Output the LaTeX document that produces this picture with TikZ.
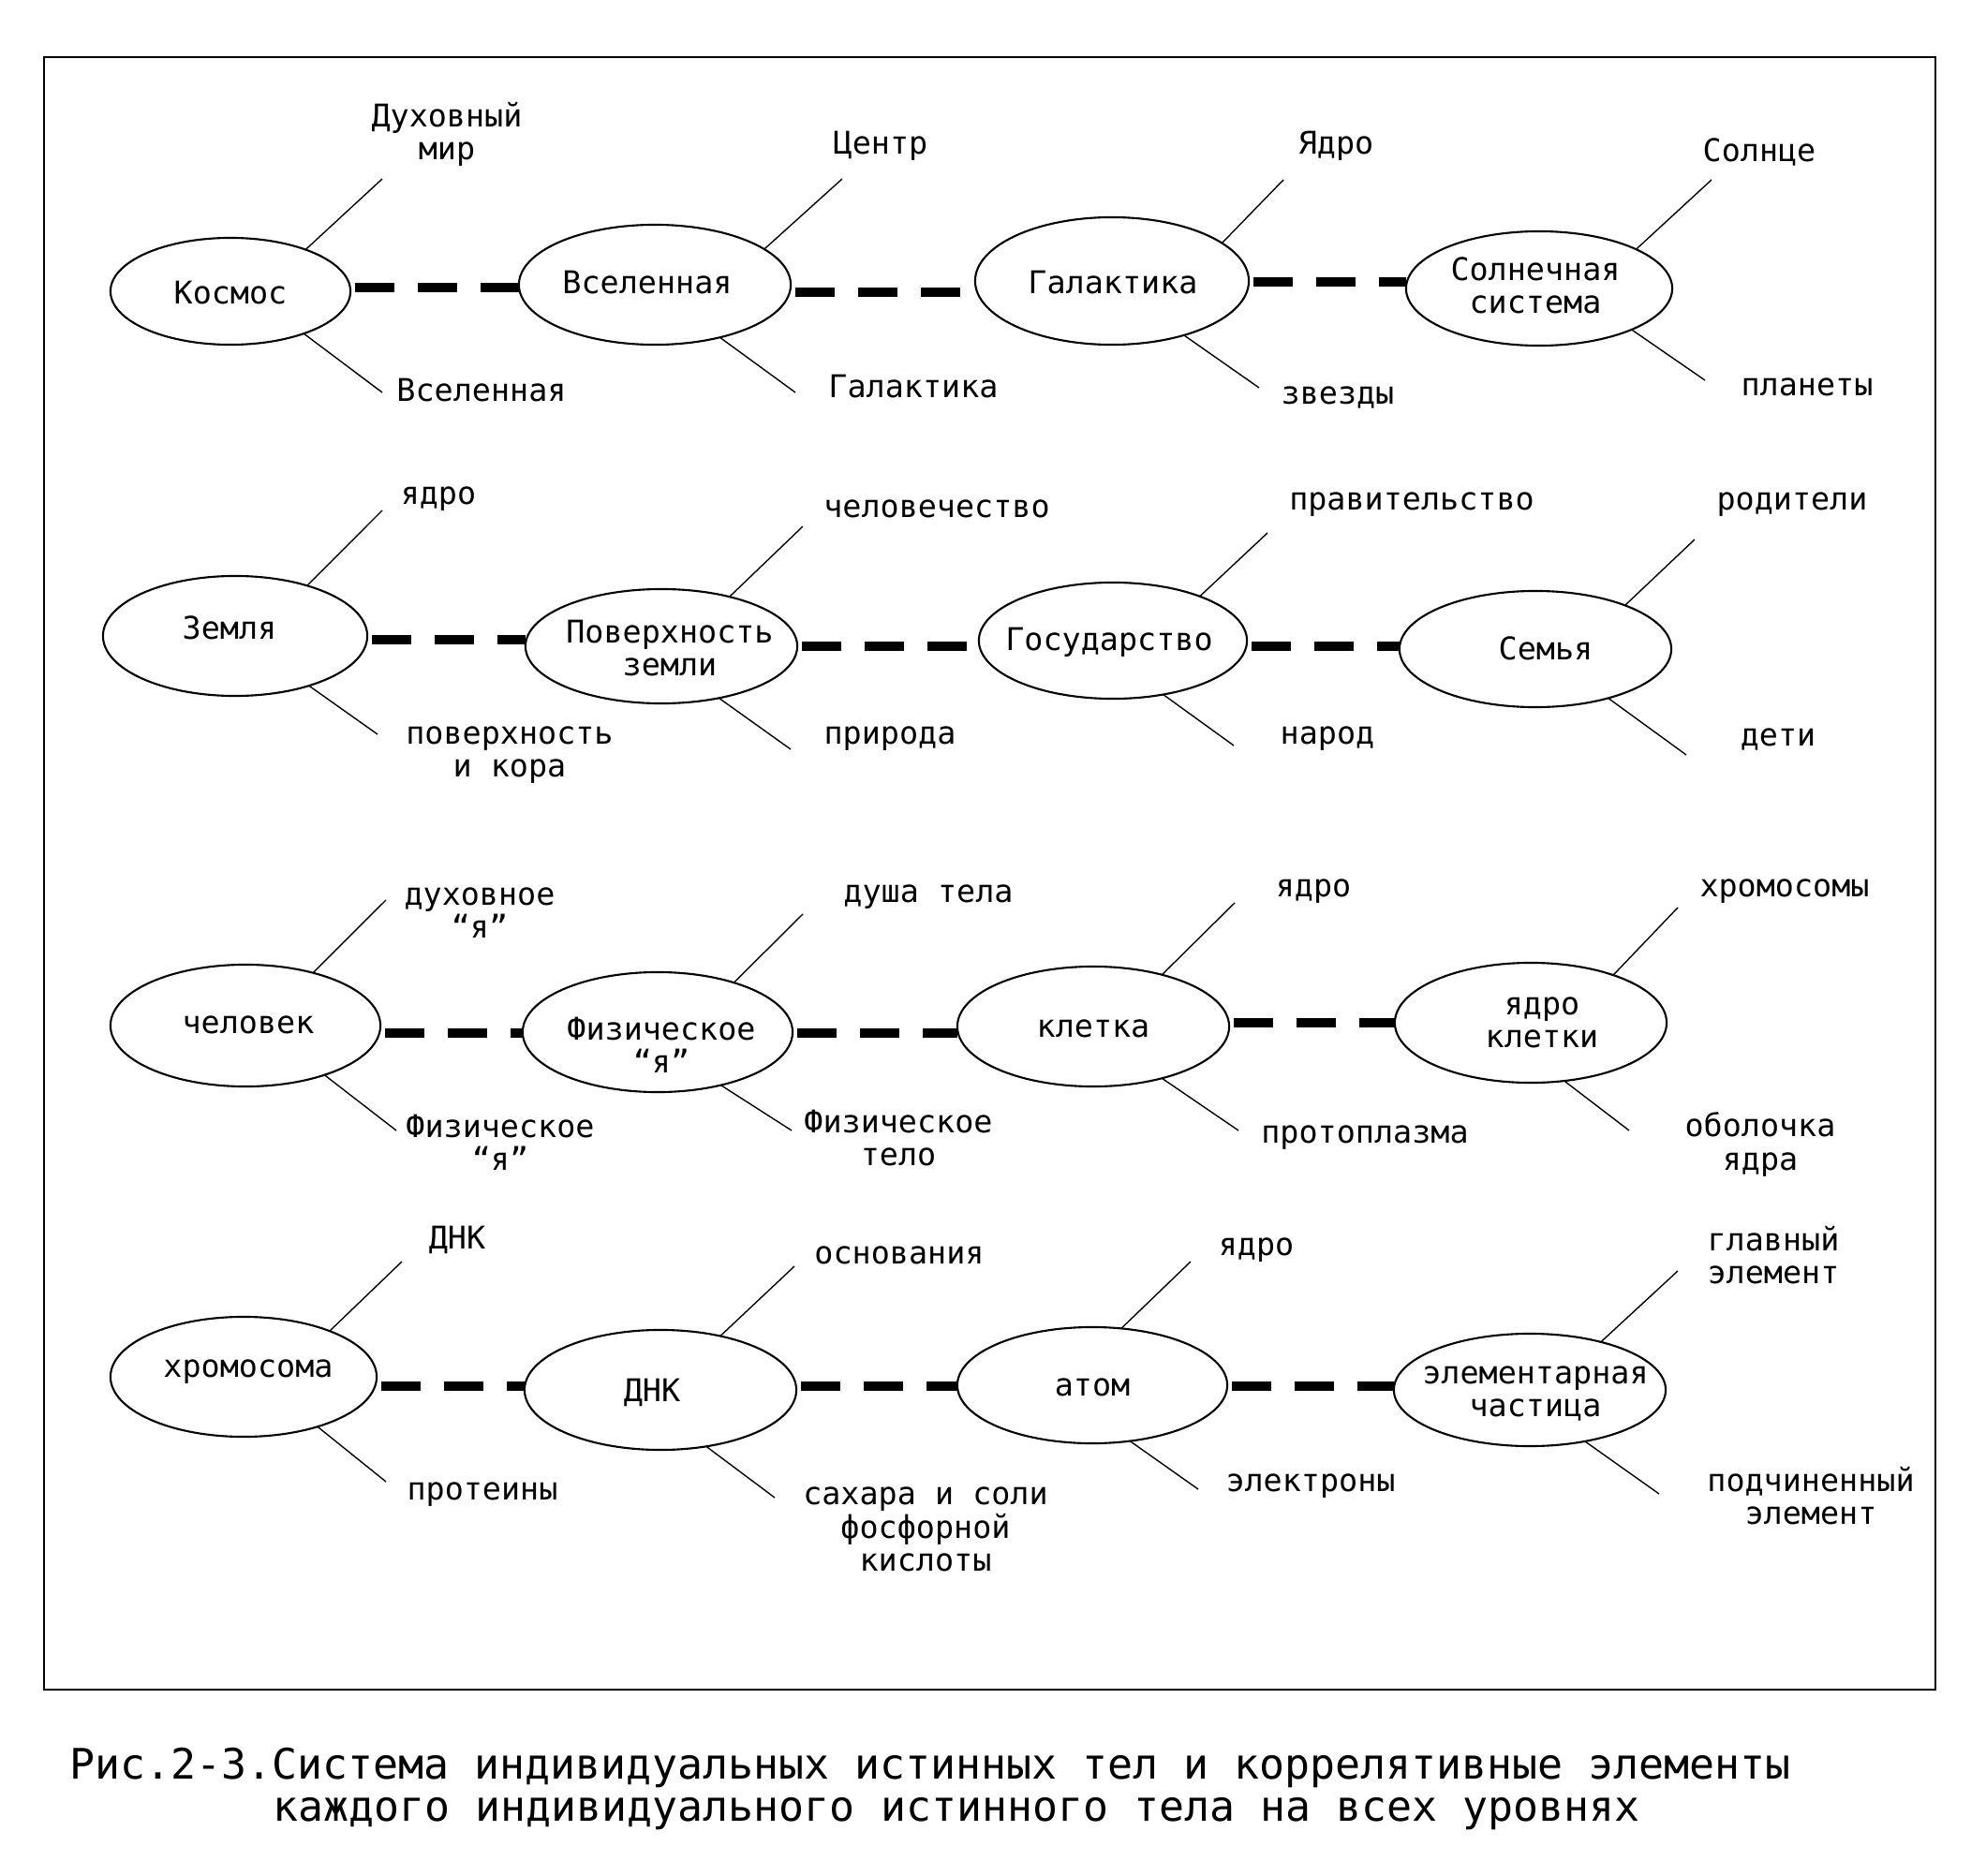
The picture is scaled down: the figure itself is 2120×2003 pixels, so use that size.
\documentclass[tikz,border=0pt]{standalone}
\usepackage{fontspec}
\newfontfamily\monof{DejaVu Sans Mono}
\usetikzlibrary{shapes.geometric}
\tikzset{
  el/.style 2 args={ellipse, draw, line width=0.6pt, minimum width=#1cm, minimum height=#2cm, inner sep=0pt, outer sep=0pt},
  txt/.style={font=\monof\fontsize{9.5}{10}\selectfont, align=center, inner sep=0pt, text=black, yshift=-0.02cm},
  spoke/.style={line width=0.4pt},
  link/.style={line width=2.85pt, dash pattern=on 0.42cm off 0.25cm, shorten <=0.05cm},
  captxt/.style={font=\monof\fontsize{12.76}{13}\selectfont, inner sep=0pt, anchor=west, text=black},
  frame/.style={line width=0.6pt}
}
\begin{document}
\begin{tikzpicture}[x=0.01cm, y={(0cm,-0.01cm)}]
\useasboundingbox (0,0) rectangle (2120,2003);
\draw[frame] (47,61) rectangle (2066,1804);

% ---------- Row 1 ----------
\node[el={2.56}{1.14}] (r1a) at (246,311) {};
\node[txt] (r1a-t) at (246,311) {Космос};
\node[el={2.90}{1.28}] (r1b) at (699,304) {};
\node[txt] (r1b-t) at (691,300) {Вселенная};
\node[el={2.92}{1.36}] (r1c) at (1187,300) {};
\node[txt] (r1c-t) at (1188,300) {Галактика};
\node[el={2.84}{1.22}] (r1d) at (1643,308) {};
\node[txt] (r1d-t) at (1639,303) {Солнечная\\система};

\coordinate (y11) at (0,307); \coordinate (y12) at (0,312); \coordinate (y13) at (0,301);
\draw[link] (r1a.east |- y11) -- (r1b.west |- y11);
\draw[link] (r1b.east |- y12) -- (r1c.west |- y12);
\draw[link] (r1c.east |- y13) -- (r1d.west |- y13);

\coordinate (r1a-u) at (408,191); \coordinate (r1a-l) at (408,419);
\coordinate (r1b-u) at (899,191); \coordinate (r1b-l) at (849,419);
\coordinate (r1c-u) at (1370,192); \coordinate (r1c-l) at (1344,414);
\coordinate (r1d-u) at (1827,192); \coordinate (r1d-l) at (1820,406);
\draw[spoke] (r1a.29) -- (r1a-u); \draw[spoke] (r1a.-30) -- (r1a-l);
\draw[spoke] (r1b.18) -- (r1b-u); \draw[spoke] (r1b.-39) -- (r1b-l);
\draw[spoke] (r1c.19) -- (r1c-u); \draw[spoke] (r1c.-37) -- (r1c-l);
\draw[spoke] (r1d.22) -- (r1d-u); \draw[spoke] (r1d.-24) -- (r1d-l);

\node[txt] (r1a-ul) at (477,141) {Духовный\\мир};
\node[txt] (r1a-ll) at (514,415) {Вселенная};
\node[txt] (r1b-ul) at (940,154) {Центр};
\node[txt] (r1b-ll) at (975,411) {Галактика};
\node[txt] (r1c-ul) at (1426,154) {Ядро};
\node[txt] (r1c-ll) at (1428,422) {звезды};
\node[txt] (r1d-ul) at (1878,160) {Солнце};
\node[txt] (r1d-ll) at (1929,411) {планеты};

% ---------- Row 2 ----------
\node[el={2.82}{1.28}] (r2a) at (251,679) {};
\node[txt] (r2a-t) at (245,668) {Земля};
\node[el={2.90}{1.22}] (r2b) at (706,690) {};
\node[txt] (r2b-t) at (715,690) {Поверхность\\земли};
\node[el={2.86}{1.24}] (r2c) at (1188,684) {};
\node[txt] (r2c-t) at (1184,684) {Государство};
\node[el={2.90}{1.24}] (r2d) at (1639,693) {};
\node[txt] (r2d-t) at (1650,690) {Семья};

\coordinate (y21) at (0,683); \coordinate (y22) at (0,690); \coordinate (y23) at (0,690);
\draw[link] (r2a.east |- y21) -- (r2b.west |- y21);
\draw[link] (r2b.east |- y22) -- (r2c.west |- y22);
\draw[link] (r2c.east |- y23) -- (r2d.west |- y23);

\coordinate (r2a-u) at (408,545); \coordinate (r2a-l) at (403,784);
\coordinate (r2b-u) at (857,562); \coordinate (r2b-l) at (844,800);
\coordinate (r2c-u) at (1353,569); \coordinate (r2c-l) at (1317,796);
\coordinate (r2d-u) at (1809,576); \coordinate (r2d-l) at (1800,806);
\draw[spoke] (r2a.35) -- (r2a-u); \draw[spoke] (r2a.-34) -- (r2a-l);
\draw[spoke] (r2b.36) -- (r2b-u); \draw[spoke] (r2b.-42) -- (r2b-l);
\draw[spoke] (r2c.27) -- (r2c-u); \draw[spoke] (r2c.-47) -- (r2c-l);
\draw[spoke] (r2d.26) -- (r2d-u); \draw[spoke] (r2d.-34) -- (r2d-l);

\node[txt] (r2a-ul) at (468,531) {ядро};
\node[txt] (r2a-ll) at (544,804) {поверхность\\и кора};
\node[txt] (r2b-ul) at (1000,541) {человечество};
\node[txt] (r2b-ll) at (950,787) {природа};
\node[txt] (r2c-ul) at (1507,537) {правительство};
\node[txt] (r2c-ll) at (1417,787) {народ};
\node[txt] (r2d-ul) at (1913,537) {родители};
\node[txt] (r2d-ll) at (1898,787) {дети};

% ---------- Row 3 ----------
\node[el={2.88}{1.30}] (r3a) at (262,1095) {};
\node[txt] (r3a-t) at (265,1092) {человек};
\node[el={2.88}{1.28}] (r3b) at (702,1102) {};
\node[txt] (r3b-t) at (706,1114) {Физическое\\“я”};
\node[el={2.90}{1.28}] (r3c) at (1167,1096) {};
\node[txt] (r3c-t) at (1167,1096) {клетка};
\node[el={2.90}{1.28}] (r3d) at (1634,1092) {};
\node[txt] (r3d-t) at (1646,1090) {ядро\\клетки};

\coordinate (y31) at (0,1103); \coordinate (y32) at (0,1103); \coordinate (y33) at (0,1092);
\draw[link] (r3a.east |- y31) -- (r3b.west |- y31);
\draw[link] (r3b.east |- y32) -- (r3c.west |- y32);
\draw[link] (r3c.east |- y33) -- (r3d.west |- y33);

\coordinate (r3a-u) at (412,961); \coordinate (r3a-l) at (423,1207);
\coordinate (r3b-u) at (857,976); \coordinate (r3b-l) at (845,1207);
\coordinate (r3c-u) at (1318,964); \coordinate (r3c-l) at (1322,1207);
\coordinate (r3d-u) at (1791,969); \coordinate (r3d-l) at (1739,1207);
\draw[spoke] (r3a.38) -- (r3a-u); \draw[spoke] (r3a.-32) -- (r3a-l);
\draw[spoke] (r3b.33) -- (r3b-u); \draw[spoke] (r3b.-40) -- (r3b-l);
\draw[spoke] (r3c.37) -- (r3c-u); \draw[spoke] (r3c.-37) -- (r3c-l);
\draw[spoke] (r3d.30) -- (r3d-u); \draw[spoke] (r3d.-60) -- (r3d-l);

\node[txt] (r3a-ul) at (512,973) {духовное\\“я”};
\node[txt] (r3a-ll) at (534,1218) {Физическое\\“я”};
\node[txt] (r3b-ul) at (991,956) {душа тела};
\node[txt] (r3b-ll) at (959,1213) {Физическое\\тело};
\node[txt] (r3c-ul) at (1402,950) {ядро};
\node[txt] (r3c-ll) at (1457,1213) {протоплазма};
\node[txt] (r3d-ul) at (1905,950) {хромосомы};
\node[txt] (r3d-ll) at (1879,1220) {оболочка\\ядра};

% ---------- Row 4 ----------
\node[el={2.84}{1.28}] (r4a) at (260,1470) {};
\node[txt] (r4a-t) at (265,1463) {хромосома};
\node[el={2.90}{1.28}] (r4b) at (705,1484) {};
\node[txt] (r4b-t) at (696,1485) {ДНК};
\node[el={2.88}{1.24}] (r4c) at (1166,1479) {};
\node[txt] (r4c-t) at (1166,1479) {атом};
\node[el={2.90}{1.20}] (r4d) at (1633,1484) {};
\node[txt] (r4d-t) at (1639,1486) {элементарная\\частица};

\coordinate (y41) at (0,1480); \coordinate (y42) at (0,1480); \coordinate (y43) at (0,1480);
\draw[link] (r4a.east |- y41) -- (r4b.west |- y41);
\draw[link] (r4b.east |- y42) -- (r4c.west |- y42);
\draw[link] (r4c.east |- y43) -- (r4d.west |- y43);

\coordinate (r4a-u) at (429,1347); \coordinate (r4a-l) at (412,1582);
\coordinate (r4b-u) at (848,1352); \coordinate (r4b-l) at (827,1599);
\coordinate (r4c-u) at (1271,1347); \coordinate (r4c-l) at (1279,1590);
\coordinate (r4d-u) at (1791,1357); \coordinate (r4d-l) at (1771,1595);
\draw[spoke] (r4a.28) -- (r4a-u); \draw[spoke] (r4a.-34) -- (r4a-l);
\draw[spoke] (r4b.42) -- (r4b-u); \draw[spoke] (r4b.-51) -- (r4b-l);
\draw[spoke] (r4c.63) -- (r4c-u); \draw[spoke] (r4c.-56) -- (r4c-l);
\draw[spoke] (r4d.34) -- (r4d-u); \draw[spoke] (r4d.-43) -- (r4d-l);

\node[txt] (r4a-ul) at (488,1322) {ДНК};
\node[txt] (r4a-ll) at (515,1594) {протеины};
\node[txt] (r4b-ul) at (960,1338) {основания};
\node[txt] (r4b-ll) at (988,1631) {сахара и соли\\фосфорной\\кислоты};
\node[txt] (r4c-ul) at (1341,1333) {ядро};
\node[txt] (r4c-ll) at (1399,1585) {электроны};
\node[txt] (r4d-ul) at (1893,1338) {главный\\элемент};
\node[txt] (r4d-ll) at (1933,1595) {подчиненный\\элемент};

% ---------- Caption ----------
\node[captxt] (cap1) at (74,1888) {Рис.2-3.Система индивидуальных истинных тел и коррелятивные элементы};
\node[captxt] (cap2) at (291,1937) {каждого индивидуального истинного тела на всех уровнях};
\end{tikzpicture}
\end{document}
